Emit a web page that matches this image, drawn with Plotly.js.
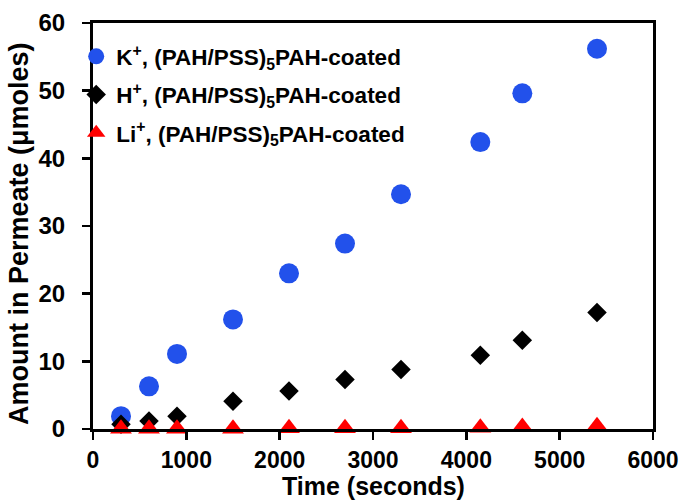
<!DOCTYPE html>
<html>
<head>
<meta charset="utf-8">
<script src="https://cdn.plot.ly/plotly-3.0.1.min.js"></script>
<style>html,body{margin:0;padding:0;background:#fff;}#chart{width:684px;height:501px;}</style>
</head>
<body>
<div id="chart"></div>
<script>
const timeSec = [300, 600, 900, 1500, 2100, 2700, 3300, 4150, 4600, 5400];
const kValues = [1.9, 6.3, 11.1, 16.2, 23.0, 27.4, 34.7, 42.4, 49.6, 56.2];
const hValues = [0.7, 1.2, 1.9, 4.1, 5.6, 7.3, 8.8, 10.9, 13.1, 17.2];
const liValues = [0.05, 0.05, 0.05, 0.05, 0.1, 0.1, 0.1, 0.2, 0.3, 0.4];
const seriesNames = [
  "K<sup>+</sup>, (PAH/PSS)<sub>5</sub>PAH-coated",
  "H<sup>+</sup>, (PAH/PSS)<sub>5</sub>PAH-coated",
  "Li<sup>+</sup>, (PAH/PSS)<sub>5</sub>PAH-coated"
];
const xTitle = "Time (seconds)";
const yTitle = "Amount in Permeate (μmoles)";

const FONT = "Liberation Sans, Arial, sans-serif";

const traces = [
  {x: timeSec, y: kValues, name: seriesNames[0], type: "scatter", mode: "markers", legendgroup: "k",
   marker: {symbol: "circle", size: 20, color: "#2251EB"}, cliponaxis: false},
  {x: timeSec, y: hValues, name: seriesNames[1], type: "scatter", mode: "markers", legendgroup: "h",
   marker: {symbol: "diamond", size: 15, color: "#000000"}, cliponaxis: false},
  {x: timeSec, y: liValues, name: seriesNames[2], type: "scatter", mode: "markers", legendgroup: "li",
   marker: {symbol: "triangle-up", size: 19, color: "#FF0000"}, cliponaxis: false}
];

const layout = {
  width: 684, height: 501,
  margin: {l: 93, r: 31, t: 23, b: 72},
  paper_bgcolor: "#fff", plot_bgcolor: "#fff",
  font: {family: FONT, color: "#000", weight: "bold"},
  showlegend: true,
  legend: {x: -0.03, y: 0.97, xanchor: "left", yanchor: "top",
    font: {family: FONT, size: 22.5, color: "#000", weight: "bold"},
    bgcolor: "rgba(0,0,0,0)", tracegroupgap: 6, itemsizing: "trace"},
  xaxis: {range: [0, 6000], dtick: 1000, tick0: 0, ticks: "outside", ticklen: 8, tickwidth: 2.5,
    tickcolor: "#000", showline: true, linewidth: 3, linecolor: "#000", mirror: true,
    showgrid: false, zeroline: false,
    tickfont: {family: FONT, size: 23, color: "#000", weight: "bold"}},
  yaxis: {range: [0, 60], dtick: 10, tick0: 0, ticks: "outside", ticklen: 8, tickwidth: 2.5,
    tickcolor: "#000", showline: true, linewidth: 3, linecolor: "#000", mirror: true,
    showgrid: false, zeroline: false, ticklabelstandoff: 12,
    tickfont: {family: FONT, size: 24, color: "#000", weight: "bold"}},
  annotations: [
    {text: xTitle, xref: "paper", yref: "paper", x: 0.5, y: -0.1405, xanchor: "center", yanchor: "middle",
     showarrow: false, font: {family: FONT, size: 25, color: "#000", weight: "bold"}},
    {text: yTitle, xref: "paper", yref: "paper", x: -0.133, y: 0.4815, xanchor: "center", yanchor: "middle",
     textangle: -90, showarrow: false, font: {family: FONT, size: 27, color: "#000", weight: "bold"}}
  ]
};

Plotly.newPlot("chart", traces, layout, {displayModeBar: false, staticPlot: true});
</script>
</body>
</html>
